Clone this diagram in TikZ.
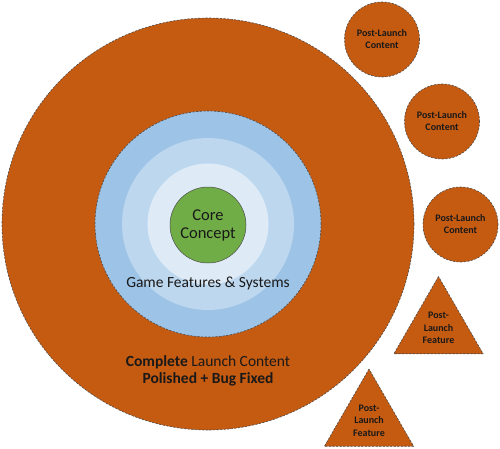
\documentclass[tikz,border=0pt]{standalone}
\usepackage{fontspec}
\setmainfont{Carlito}
\usetikzlibrary{shapes.geometric,positioning}
\definecolor{launchorange}{HTML}{C55A11}
\definecolor{ringdark}{HTML}{9DC3E6}
\definecolor{ringmid}{HTML}{BDD7EE}
\definecolor{ringlight}{HTML}{DEEBF7}
\definecolor{coregreen}{HTML}{70AD47}
\tikzstyle{every node}=[inner sep=0pt,align=center,text=black!90]
\tikzstyle{dashline}=[draw=black!70,line width=0.6pt,dash pattern=on 2.2pt off 1.4pt]
\tikzstyle{launch}=[circle,dashline,fill=launchorange,minimum size=412pt]
\tikzstyle{ring}=[circle,minimum size=#1]
\tikzstyle{core}=[circle,draw=black!70,line width=0.5pt,fill=coregreen,minimum size=76pt,font=\fontsize{16.5}{18}\selectfont]
\tikzstyle{postcontent}=[circle,dashline,fill=launchorange,minimum size=75pt,font=\fontsize{10}{12}\selectfont\bfseries]
\tikzstyle{postfeature}=[regular polygon,regular polygon sides=3,dashline,fill=launchorange,minimum size=103pt,font=\fontsize{10}{12.5}\selectfont\bfseries]
\tikzstyle{label}=[font=\fontsize{15.5}{19}\selectfont]

\begin{document}
\begin{tikzpicture}[x=1pt,y=-1pt]
  \useasboundingbox (0,0) rectangle (500,448);

  % launch content and feature rings
  \node [launch] (launch) at (208,224) {};
  \node [ring=226pt,dashline,fill=ringdark] (features) at (launch.center) {};
  \node [ring=172pt,fill=ringmid] (ringb) at (launch.center) {};
  \node [ring=121pt,fill=ringlight] (ringc) at (launch.center) {};
  \node [core] (core) at (208,225) {Core\\Concept};

  \node [label] (featlabel) at (208,283) {Game Features \& Systems};
  \node [label] (launchlabel) at (208,362) {\textbf{Complete} Launch Content};
  \node [label,font=\fontsize{15.5}{19}\selectfont\bfseries,below=4pt of launchlabel] (polish) {Polished + Bug Fixed};

  % post-launch
  \node [postcontent] (post1) at (382,39.5) {Post-Launch\\Content};
  \node [postcontent] (post2) at (442,121.5) {Post-Launch\\Content};
  \node [postcontent] (post3) at (460.5,224.5) {Post-Launch\\Content};
  \node [postfeature] (feat1) at (438.5,328) {Post-\\Launch\\Feature};
  \node [postfeature] (feat2) at (369,420.5) {Post-\\Launch\\Feature};
\end{tikzpicture}
\end{document}
